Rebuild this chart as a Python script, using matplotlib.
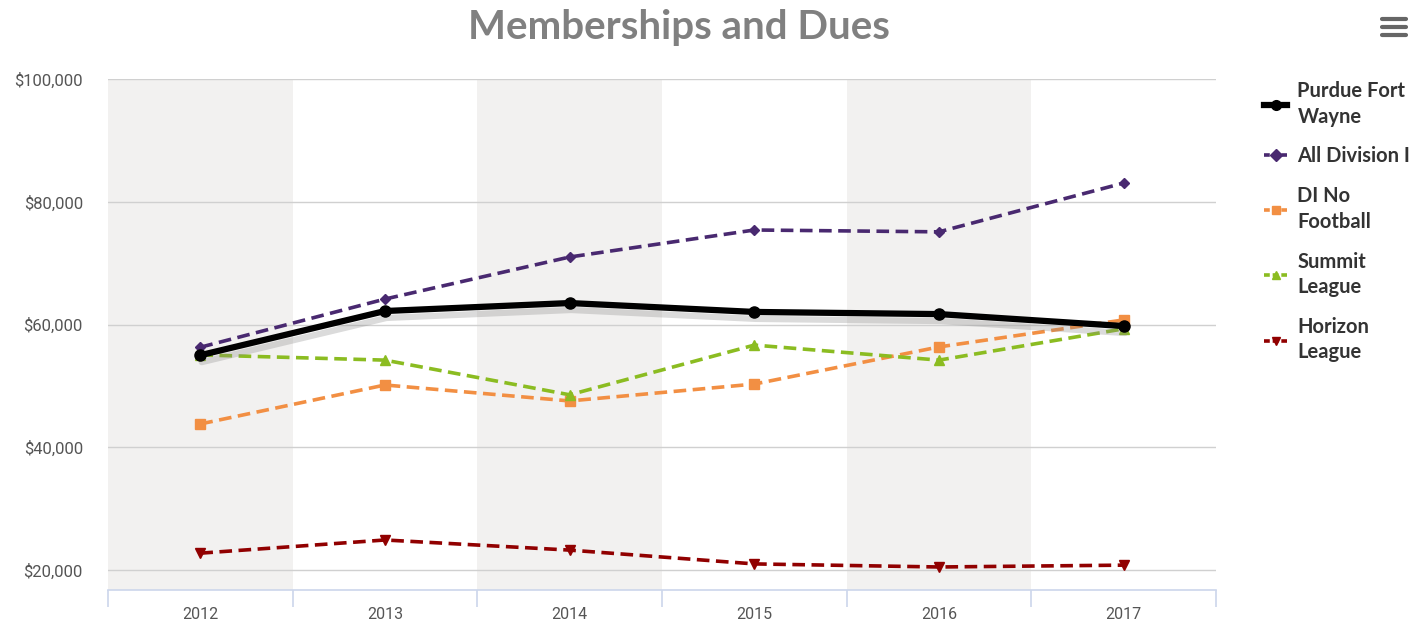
import matplotlib.pyplot as plt
import matplotlib.patheffects as pe
from matplotlib.lines import Line2D
from matplotlib.ticker import FuncFormatter

years = ["2012", "2013", "2014", "2015", "2016", "2017"]
purdue = [55000, 62200, 63500, 62050, 61700, 59750]
all_d1 = [56300, 64150, 71000, 75400, 75100, 83050]
d1_no_fb = [43800, 50150, 47550, 50300, 56350, 60750]
summit = [55050, 54200, 48550, 56650, 54200, 59300]
horizon = [22750, 24900, 23250, 21000, 20500, 20800]

names = ["Purdue Fort\nWayne", "All Division I", "DI No\nFootball", "Summit\nLeague", "Horizon\nLeague"]
colors = ["#000000", "#492970", "#f28f43", "#8bbc21", "#910000"]
markers = ["o", "D", "s", "^", "v"]

fig = plt.figure(figsize=(14.26, 6.24), dpi=100)
ax = fig.add_axes([108/1426, 1-590/624, (1216-108)/1426, (590-79)/624])

x = list(range(len(years)))
# alternating column bands
for i in x:
    if i % 2 == 0:
        ax.axvspan(i-0.5, i+0.5, color="#f2f1f0", zorder=0, lw=0)

series = [purdue, all_d1, d1_no_fb, summit, horizon]
handles = []
for k, vals in enumerate(series):
    if k == 0:
        # line with shadow, markers on top without shadow
        ax.plot(x, vals, color=colors[k], lw=4.5, solid_capstyle="round", zorder=5,
                path_effects=[pe.SimpleLineShadow(offset=(1, -5), shadow_color="#888888", alpha=0.3, rho=1),
                              pe.Normal()])
        ax.plot(x, vals, ls="none", color=colors[k], marker=markers[k], ms=8, zorder=6)
    else:
        ms = 5.5 if markers[k] == "D" else 7.5
        ax.plot(x, vals, color=colors[k], lw=2.6, ls=(0, (3.5, 1.8)),
                marker=markers[k], ms=ms, zorder=4)
    handles.append(Line2D([0], [0], color=colors[k], lw=4.5 if k == 0 else 2.6,
                          ls="-" if k == 0 else (0, (1.6, 0.8)), marker=markers[k],
                          ms=7 if k == 0 else 6))

ax.set_xlim(-0.5, 5.5)
ax.set_ylim(16750, 100000)
ax.set_yticks([20000, 40000, 60000, 80000, 100000])
ax.yaxis.set_major_formatter(FuncFormatter(lambda v, p: "${:,.0f}".format(v)))
ax.grid(axis="y", color="#d0d0d0", lw=1)
ax.set_axisbelow(True)
for s in ["top", "right", "left"]:
    ax.spines[s].set_visible(False)
ax.spines["bottom"].set_color("#ccd6eb")
ax.spines["bottom"].set_linewidth(1.2)

ax.set_xticks(x)
ax.set_xticklabels(years)
ax.set_xticks([i + 0.5 for i in range(-1, 6)], minor=True)
ax.tick_params(axis="x", which="major", length=0, pad=12, labelsize=11.5, labelcolor="#555555")
ax.tick_params(axis="x", which="minor", length=12, color="#ccd6eb", width=1.2)
ax.tick_params(axis="y", length=0, pad=18, labelsize=12, labelcolor="#555555")
for t in ax.get_xticklabels() + ax.get_yticklabels():
    t.set_fontfamily("Roboto")

fig.text(0.476, 1-27/624, "Memberships and Dues", ha="center", va="center",
         fontsize=29, fontweight="bold", color="#808080", fontfamily="Lato")

leg = fig.legend(handles, names, loc="upper left", bbox_to_anchor=(1246/1426, 1-63/624),
                 frameon=False, handlelength=1.15, handletextpad=0.5, labelspacing=0.98,
                 prop={"family": "Lato", "weight": "bold", "size": 14.5})
for t in leg.get_texts():
    t.set_color("#333333")
    t.set_linespacing(1.35)

# menu icon
for yy in [19, 27, 35]:
    fig.add_artist(Line2D([1382/1426, 1406/1426], [1-yy/624, 1-yy/624], color="#666666",
                          lw=3, solid_capstyle="round"))

fig.savefig("out.png", dpi=100)
